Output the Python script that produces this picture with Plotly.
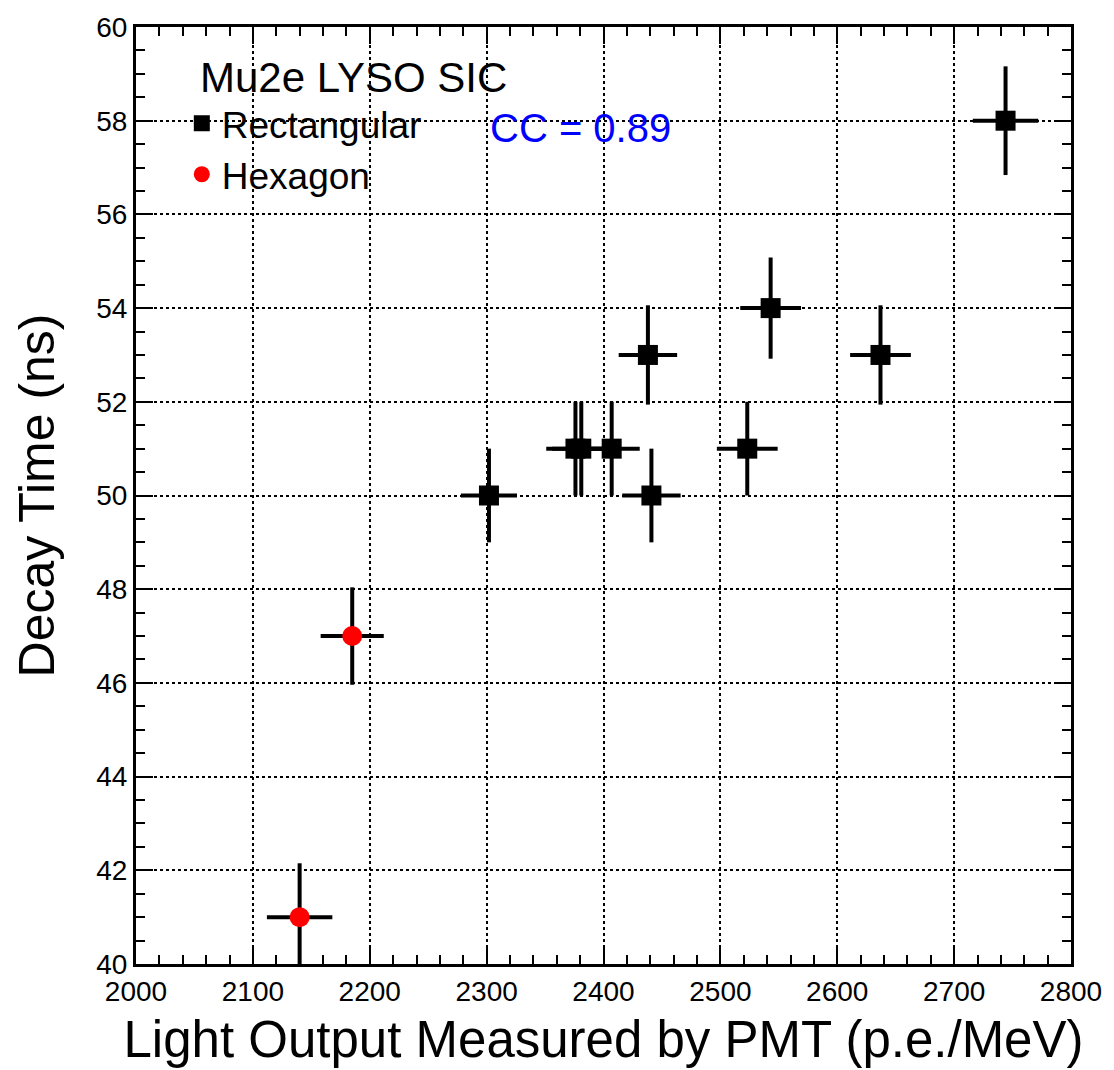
import plotly.graph_objects as go

# Rectangular crystals
rect_lo = [2302, 2376, 2381, 2407, 2438, 2441, 2523, 2543, 2637, 2744]
rect_tau = [50, 51, 51, 51, 53, 50, 51, 54, 53, 58]
rect_lo_err = [24, 25, 25, 24, 25, 25, 26, 26, 26, 28]
rect_tau_err = [1.0, 1.0, 1.0, 1.0, 1.06, 1.0, 1.0, 1.08, 1.06, 1.16]

# Hexagon crystals
hex_lo = [2140, 2185]
hex_tau = [41, 47]
hex_lo_err = [28, 27]
hex_tau_err = [1.15, 1.04]

x_ticks = [2000, 2100, 2200, 2300, 2400, 2500, 2600, 2700, 2800]
y_ticks = [40, 42, 44, 46, 48, 50, 52, 54, 56, 58, 60]

FONT = "Liberation Sans, Arial, sans-serif"

fig = go.Figure()

err_style = dict(type="data", color="black", thickness=4, width=0, visible=True)

fig.add_trace(go.Scatter(
    x=rect_lo, y=rect_tau, mode="markers", name="Rectangular",
    marker=dict(symbol="square", size=20, color="black"),
    error_x=dict(array=rect_lo_err, **err_style),
    error_y=dict(array=rect_tau_err, **err_style),
))
fig.add_trace(go.Scatter(
    x=hex_lo, y=hex_tau, mode="markers", name="Hexagon",
    marker=dict(symbol="circle", size=20, color="red"),
    error_x=dict(array=hex_lo_err, **err_style),
    error_y=dict(array=hex_tau_err, **err_style),
))

axis_common = dict(
    showline=True, linewidth=3, linecolor="black", mirror="ticks",
    ticks="inside", ticklen=17, tickwidth=2, tickcolor="black",
    showgrid=True, gridcolor="black", gridwidth=2, griddash="dot",
    zeroline=False,
    tickfont=dict(family=FONT, size=28, color="black"),
)

fig.update_xaxes(
    range=[2000, 2800], tickvals=x_ticks,
    minor=dict(dtick=20, ticks="inside", ticklen=9, tickwidth=2, tickcolor="black", showgrid=False),
    title=dict(text="Light Output Measured by PMT (p.e./MeV)",
               font=dict(family=FONT, size=51, color="black"), standoff=16),
    **axis_common,
)
fig.update_yaxes(
    range=[40, 60], tickvals=y_ticks,
    minor=dict(dtick=0.5, ticks="inside", ticklen=9, tickwidth=2, tickcolor="black", showgrid=False),
    title=dict(text="Decay Time (ns)",
               font=dict(family=FONT, size=50, color="black"), standoff=26),
    **axis_common,
)

fig.add_annotation(
    xref="paper", yref="paper", x=0.066, y=0.946, xanchor="left", yanchor="middle",
    text="Mu2e LYSO SIC", showarrow=False, font=dict(family=FONT, size=42, color="black"),
)
fig.add_annotation(
    xref="paper", yref="paper", x=0.377, y=0.892, xanchor="left", yanchor="middle",
    text="CC = 0.89", showarrow=False, font=dict(family=FONT, size=40, color="blue"),
)

fig.update_layout(
    width=1114, height=1070,
    margin=dict(l=136, r=37, t=22, b=106),
    paper_bgcolor="white", plot_bgcolor="white",
    font=dict(family=FONT, color="black"),
    legend=dict(
        x=0.049, y=0.93, xanchor="left", yanchor="top",
        bgcolor="rgba(0,0,0,0)", borderwidth=0,
        font=dict(family=FONT, size=37, color="black"),
        tracegroupgap=0, itemsizing="trace",
    ),
)

fig.write_html("out.html")
